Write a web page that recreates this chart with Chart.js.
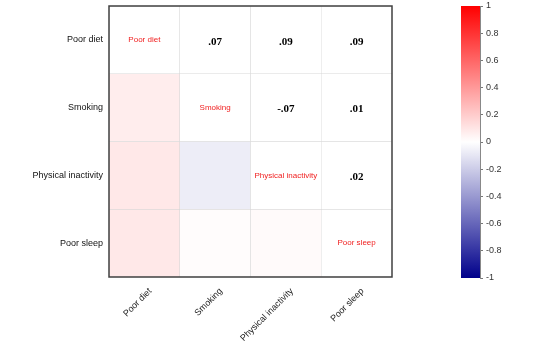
<!DOCTYPE html>
<html>
<head>
<meta charset="utf-8">
<script src="https://cdn.jsdelivr.net/npm/chart.js@4/dist/chart.umd.min.js"></script>
<style>
  html, body { margin: 0; padding: 0; background: #ffffff; }
  #wrap { position: relative; width: 537px; height: 344px; }
  #main { position: absolute; left: 0; top: 0; }
  #bar { position: absolute; left: 430px; top: 0; }
</style>
</head>
<body>
<div id="wrap">
  <canvas id="main" width="537" height="344"></canvas>
  <canvas id="bar" width="107" height="344"></canvas>
</div>
<script>
// ---- data ----
const variables = ['Poor diet', 'Smoking', 'Physical inactivity', 'Poor sleep'];
const rowPoorDiet = [1, 0.07, 0.09, 0.09];
const rowSmoking = [0.07, 1, -0.07, 0.01];
const rowPhysicalInactivity = [0.09, -0.07, 1, 0.02];
const rowPoorSleep = [0.09, 0.01, 0.02, 1];
const colorbarMin = -1;
const colorbarMax = 1;
const colorbarStep = 0.2;

const matrix = [rowPoorDiet, rowSmoking, rowPhysicalInactivity, rowPoorSleep];

function colorFor(v) {
  let r, g, b;
  if (v >= 0) {
    r = 255; g = Math.round(255 * (1 - v)); b = Math.round(255 * (1 - v));
  } else {
    const a = -v;
    r = Math.round(255 * (1 - a)); g = Math.round(255 * (1 - a)); b = Math.round(255 - (255 - 139) * a);
  }
  return `rgb(${r},${g},${b})`;
}
function fmt(v) {
  return v.toFixed(2).replace('0.', '.');
}

Chart.defaults.font.family = '"Liberation Sans", Arial, sans-serif';
Chart.defaults.animation = false;

const datasets = matrix.map((row, r) => ({
  label: variables[r],
  data: variables.map(() => 1),
  backgroundColor: row.map((v, j) => j < r ? colorFor(v) : '#ffffff'),
  borderColor: '#d6d6d6',
  borderWidth: 0.5,
  borderSkipped: false,
  barPercentage: 1,
  categoryPercentage: 1
}));

const cellText = {
  id: 'cellText',
  afterDatasetsDraw(chart) {
    const ctx = chart.ctx;
    ctx.save();
    ctx.textAlign = 'center';
    ctx.textBaseline = 'middle';
    matrix.forEach((row, r) => {
      const meta = chart.getDatasetMeta(r);
      meta.data.forEach((el, j) => {
        const cx = el.x;
        const cy = (el.y + el.base) / 2;
        if (j === r) {
          ctx.fillStyle = '#f01e1e';
          ctx.font = '8px "Liberation Sans", Arial, sans-serif';
          ctx.fillText(variables[r], cx, cy);
        } else if (j > r) {
          ctx.fillStyle = '#000000';
          ctx.font = 'bold 11px "Liberation Serif", "Times New Roman", serif';
          ctx.fillText(fmt(row[j]), cx, cy + 2);
        }
      });
    });
    const a = chart.chartArea;
    ctx.strokeStyle = '#404040';
    ctx.lineWidth = 1.5;
    ctx.strokeRect(a.left, a.top, a.right - a.left, a.bottom - a.top);
    ctx.restore();
  }
};

new Chart(document.getElementById('main'), {
  type: 'bar',
  data: { labels: variables, datasets },
  plugins: [cellText],
  options: {
    responsive: false,
    devicePixelRatio: 1,
    layout: { padding: { top: 6, right: 145, left: 0, bottom: 0 } },
    plugins: { legend: { display: false }, tooltip: { enabled: false } },
    scales: {
      x: {
        stacked: true,
        grid: { display: false, drawTicks: false },
        border: { display: false },
        ticks: {
          maxRotation: 45, minRotation: 45,
          font: { size: 9 }, color: '#222',
          padding: 9, labelOffset: 6
        },
        afterFit(scale) { scale.height = 67; scale.paddingLeft = 0; scale.paddingRight = 0; }
      },
      y: {
        stacked: true,
        min: 0, max: 4, reverse: true,
        grid: { display: false, drawTicks: false },
        border: { display: false },
        afterBuildTicks(scale) {
          scale.ticks = variables.map((_, i) => ({ value: i + 0.5 }));
        },
        ticks: {
          font: { size: 9 }, color: '#111', padding: 6,
          callback: (v) => variables[Math.floor(v)]
        },
        afterFit(scale) { scale.width = 109; scale.paddingTop = 0; scale.paddingBottom = 0; }
      }
    }
  }
});

// ---- colour bar ----
new Chart(document.getElementById('bar'), {
  type: 'bar',
  data: {
    labels: [''],
    datasets: [{
      data: [[colorbarMin, colorbarMax]],
      backgroundColor(ctx) {
        const chart = ctx.chart;
        const ys = chart.scales.y;
        if (!ys || !chart.chartArea) return '#ffffff';
        const g = chart.ctx.createLinearGradient(0, ys.getPixelForValue(colorbarMin), 0, ys.getPixelForValue(colorbarMax));
        g.addColorStop(0, colorFor(-1));
        g.addColorStop(0.5, '#ffffff');
        g.addColorStop(1, colorFor(1));
        return g;
      },
      borderWidth: 0,
      barPercentage: 1,
      categoryPercentage: 1
    }]
  },
  options: {
    responsive: false,
    devicePixelRatio: 1,
    layout: { padding: { top: 6, left: 31, bottom: 66, right: 0 } },
    plugins: { legend: { display: false }, tooltip: { enabled: false } },
    scales: {
      x: { display: false },
      y: {
        position: 'right',
        min: colorbarMin, max: colorbarMax,
        grid: { drawOnChartArea: false, tickLength: 3, color: '#777' },
        border: { display: true, color: '#888' },
        ticks: {
          stepSize: colorbarStep, font: { size: 9 }, color: '#333', padding: 3,
          callback: (v) => String(Number(v.toFixed(1)))
        },
        afterFit(scale) { scale.width = 57; scale.paddingTop = 0; scale.paddingBottom = 0; }
      }
    }
  }
});
</script>
</body>
</html>
